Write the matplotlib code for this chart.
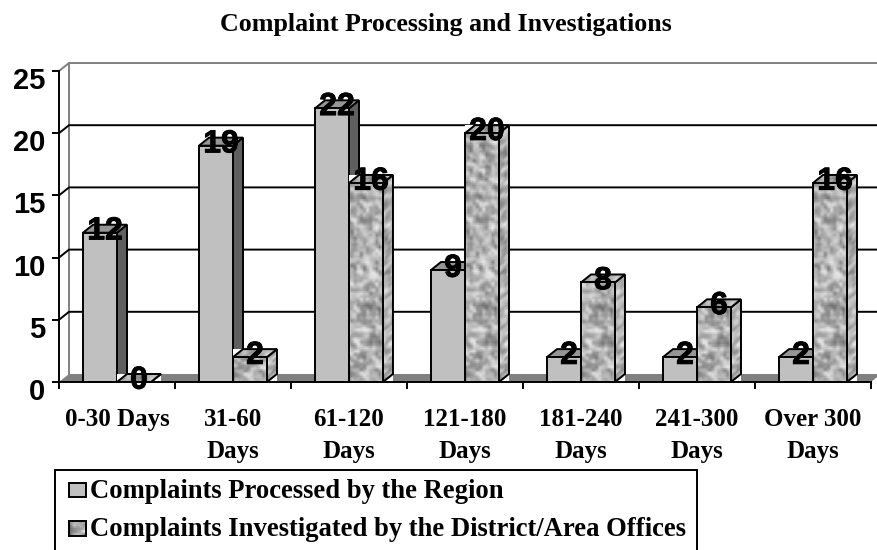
import matplotlib
matplotlib.use('Agg')
import matplotlib.pyplot as plt
from matplotlib.patches import Polygon, Rectangle
from matplotlib.transforms import ScaledTranslation
import matplotlib.patheffects as pe
import numpy as np

categories = ['0-30 Days', '31-60\nDays', '61-120\nDays', '121-180\nDays',
              '181-240\nDays', '241-300\nDays', 'Over 300\nDays']
region = [12, 19, 22, 9, 2, 2, 2]
district = [0, 2, 16, 20, 8, 6, 16]
y_ticks = [0, 5, 10, 15, 20, 25]
title = 'Complaint Processing and Investigations'
legend_labels = ['Complaints Processed by the Region',
                 'Complaints Investigated by the District/Area Offices']

W, H = 878, 550
bar_w = 0.293
dx = 10 / 116
dy = 8 / 12.44
lw = 1.4

# mottled stone fill for the second series (deterministic hash noise)
yy, xx = np.mgrid[0:120, 0:14]
noise = np.sin(xx * 12.9898 + yy * 78.233) * 43758.5453
noise = noise - np.floor(noise)
noise = (noise + np.roll(noise, 1, 0) + np.roll(noise, 1, 1)) / 3
stone = np.clip(0.70 + (noise - 0.5) * 0.7, 0.4, 0.92)

fig = plt.figure(figsize=(W / 100, H / 100), dpi=100)
ax = fig.add_axes([59 / W, 1 - 382 / H, 812 / W, 311 / H])
ax.set_xlim(0, 7)
ax.set_ylim(0, 25)


def outline(points, color, z):
    ax.add_patch(Polygon(points, closed=True, facecolor=color, edgecolor='black',
                         linewidth=lw, zorder=z, clip_on=False, joinstyle='miter'))


def stone_face(points, z, rows, cols, start=0):
    # bilinear map of the texture onto the four corners of a face
    (x0, y0), (x1, y1), (x2, y2), (x3, y3) = points
    u, t = np.meshgrid(np.linspace(0, 1, cols), np.linspace(0, 1, rows))
    X = x0 + (x1 - x0) * u + (x3 - x0) * t
    Y = y0 + (y1 - y0) * u + (y3 - y0) * t
    ax.pcolormesh(X, Y, stone[start:start + rows, :cols], cmap='gray', vmin=0, vmax=1,
                  shading='gouraud', zorder=z, clip_on=False)
    outline(points, 'none', z + 0.1)


def draw_bar(x, v, z, textured):
    x1 = x + bar_w
    front = [(x, 0), (x1, 0), (x1, v), (x, v)]
    side = [(x1, 0), (x1 + dx, dy), (x1 + dx, v + dy), (x1, v)]
    top = [(x, v), (x1, v), (x1 + dx, v + dy), (x + dx, v + dy)]
    if textured:
        ax.add_patch(Rectangle((x, 0), bar_w + dx, v + dy, facecolor='white',
                               edgecolor='none', zorder=z, clip_on=False))
        rows = max(2, int(v * 4) + 2)
        stone_face(side, z + 0.2, rows, 4, 3)
        stone_face(top, z + 0.4, 3, 10, 7)
        if v > 0:
            stone_face(front, z + 0.6, rows, 12)
    else:
        outline(side, '#5f5f5f', z + 0.2)
        outline(top, '#969696', z + 0.4)
        outline(front, '#c0c0c0', z + 0.6)


def bar_label(x, v):
    t = ax.text(x, v + 0.1, str(v), ha='center', va='center', fontsize=23,
                fontweight='bold', family='Liberation Sans', zorder=40, clip_on=False)
    t.set_path_effects([pe.withStroke(linewidth=0.6, foreground='black')])


# back wall, floor and gridlines
end = 7.2
ax.add_patch(Polygon([(0, 0), (dx, dy), (7 + dx, dy), (7, 0)], closed=True,
                     facecolor='#808080', edgecolor='none', zorder=1, clip_on=False))
ax.plot([dx, dx], [dy, 25 + dy], color='#808080', lw=lw, zorder=1.5, clip_on=False)
ax.plot([0, dx, end], [25, 25 + dy, 25 + dy], color='#808080', lw=lw, zorder=1.5, clip_on=False)
for v in y_ticks[1:-1]:
    ax.plot([0, dx, end], [v, v + dy, v + dy], color='black', lw=lw, zorder=2, clip_on=False)

for i in range(len(categories)):
    draw_bar(i + 0.5 - bar_w, region[i], 3 + i * 2, False)
    draw_bar(i + 0.5, district[i], 4 + i * 2, True)
    bar_label(i + 0.5 - bar_w / 2 + dx / 2, region[i])
    bar_label(i + 0.5 + bar_w / 2 + dx / 2, district[i])

ax.patch.set_visible(False)
for s in ['top', 'right']:
    ax.spines[s].set_visible(False)
for s in ['left', 'bottom']:
    ax.spines[s].set_linewidth(lw)
    ax.spines[s].set_zorder(30)

ax.set_yticks(y_ticks)
ax.set_yticklabels([str(v) for v in y_ticks], fontsize=21, fontweight='bold', family='Liberation Sans')
ax.tick_params(axis='y', length=5, width=lw, pad=5)
for lab in ax.get_yticklabels():
    lab.set_transform(lab.get_transform() + ScaledTranslation(0, -7 / 100, fig.dpi_scale_trans))

ax.set_xticks(range(8))
ax.set_xticklabels([])
ax.tick_params(axis='x', which='major', length=5, width=lw)
ax.set_xticks(np.arange(7) + 0.5, minor=True)
ax.set_xticklabels(categories, minor=True, fontsize=18, fontweight='bold',
                   family='Liberation Serif', linespacing=1.5)
ax.tick_params(axis='x', which='minor', length=0, pad=19)

fig.text(446 / W, 1 - 25 / H, title, ha='center', va='center', fontsize=18.7,
         fontweight='bold', family='Liberation Serif')

# legend box runs off the bottom of the picture
fig.add_artist(Rectangle((55 / W, -0.01), 642 / W, (550 - 470) / H + 0.01, transform=fig.transFigure,
                         facecolor='white', edgecolor='black', linewidth=lw))
legend_y = [491, 529]
for k, lab in enumerate(legend_labels):
    fig.text(90 / W, 1 - legend_y[k] / H, lab, ha='left', va='center', fontsize=19.2,
             fontweight='bold', family='Liberation Serif')
fig.add_artist(Rectangle((69 / W, 1 - 497 / H), 17 / W, 14 / H, transform=fig.transFigure,
                         facecolor='#c0c0c0', edgecolor='black', linewidth=lw))
lax = fig.add_axes([69 / W, 1 - 536 / H, 17 / W, 15 / H], zorder=5)
lax.imshow(stone[:5, :5], cmap='gray', vmin=0, vmax=1, aspect='auto', interpolation='bilinear')
lax.set_xticks([])
lax.set_yticks([])
for s in lax.spines.values():
    s.set_linewidth(lw)

fig.savefig('out.png', dpi=100)
